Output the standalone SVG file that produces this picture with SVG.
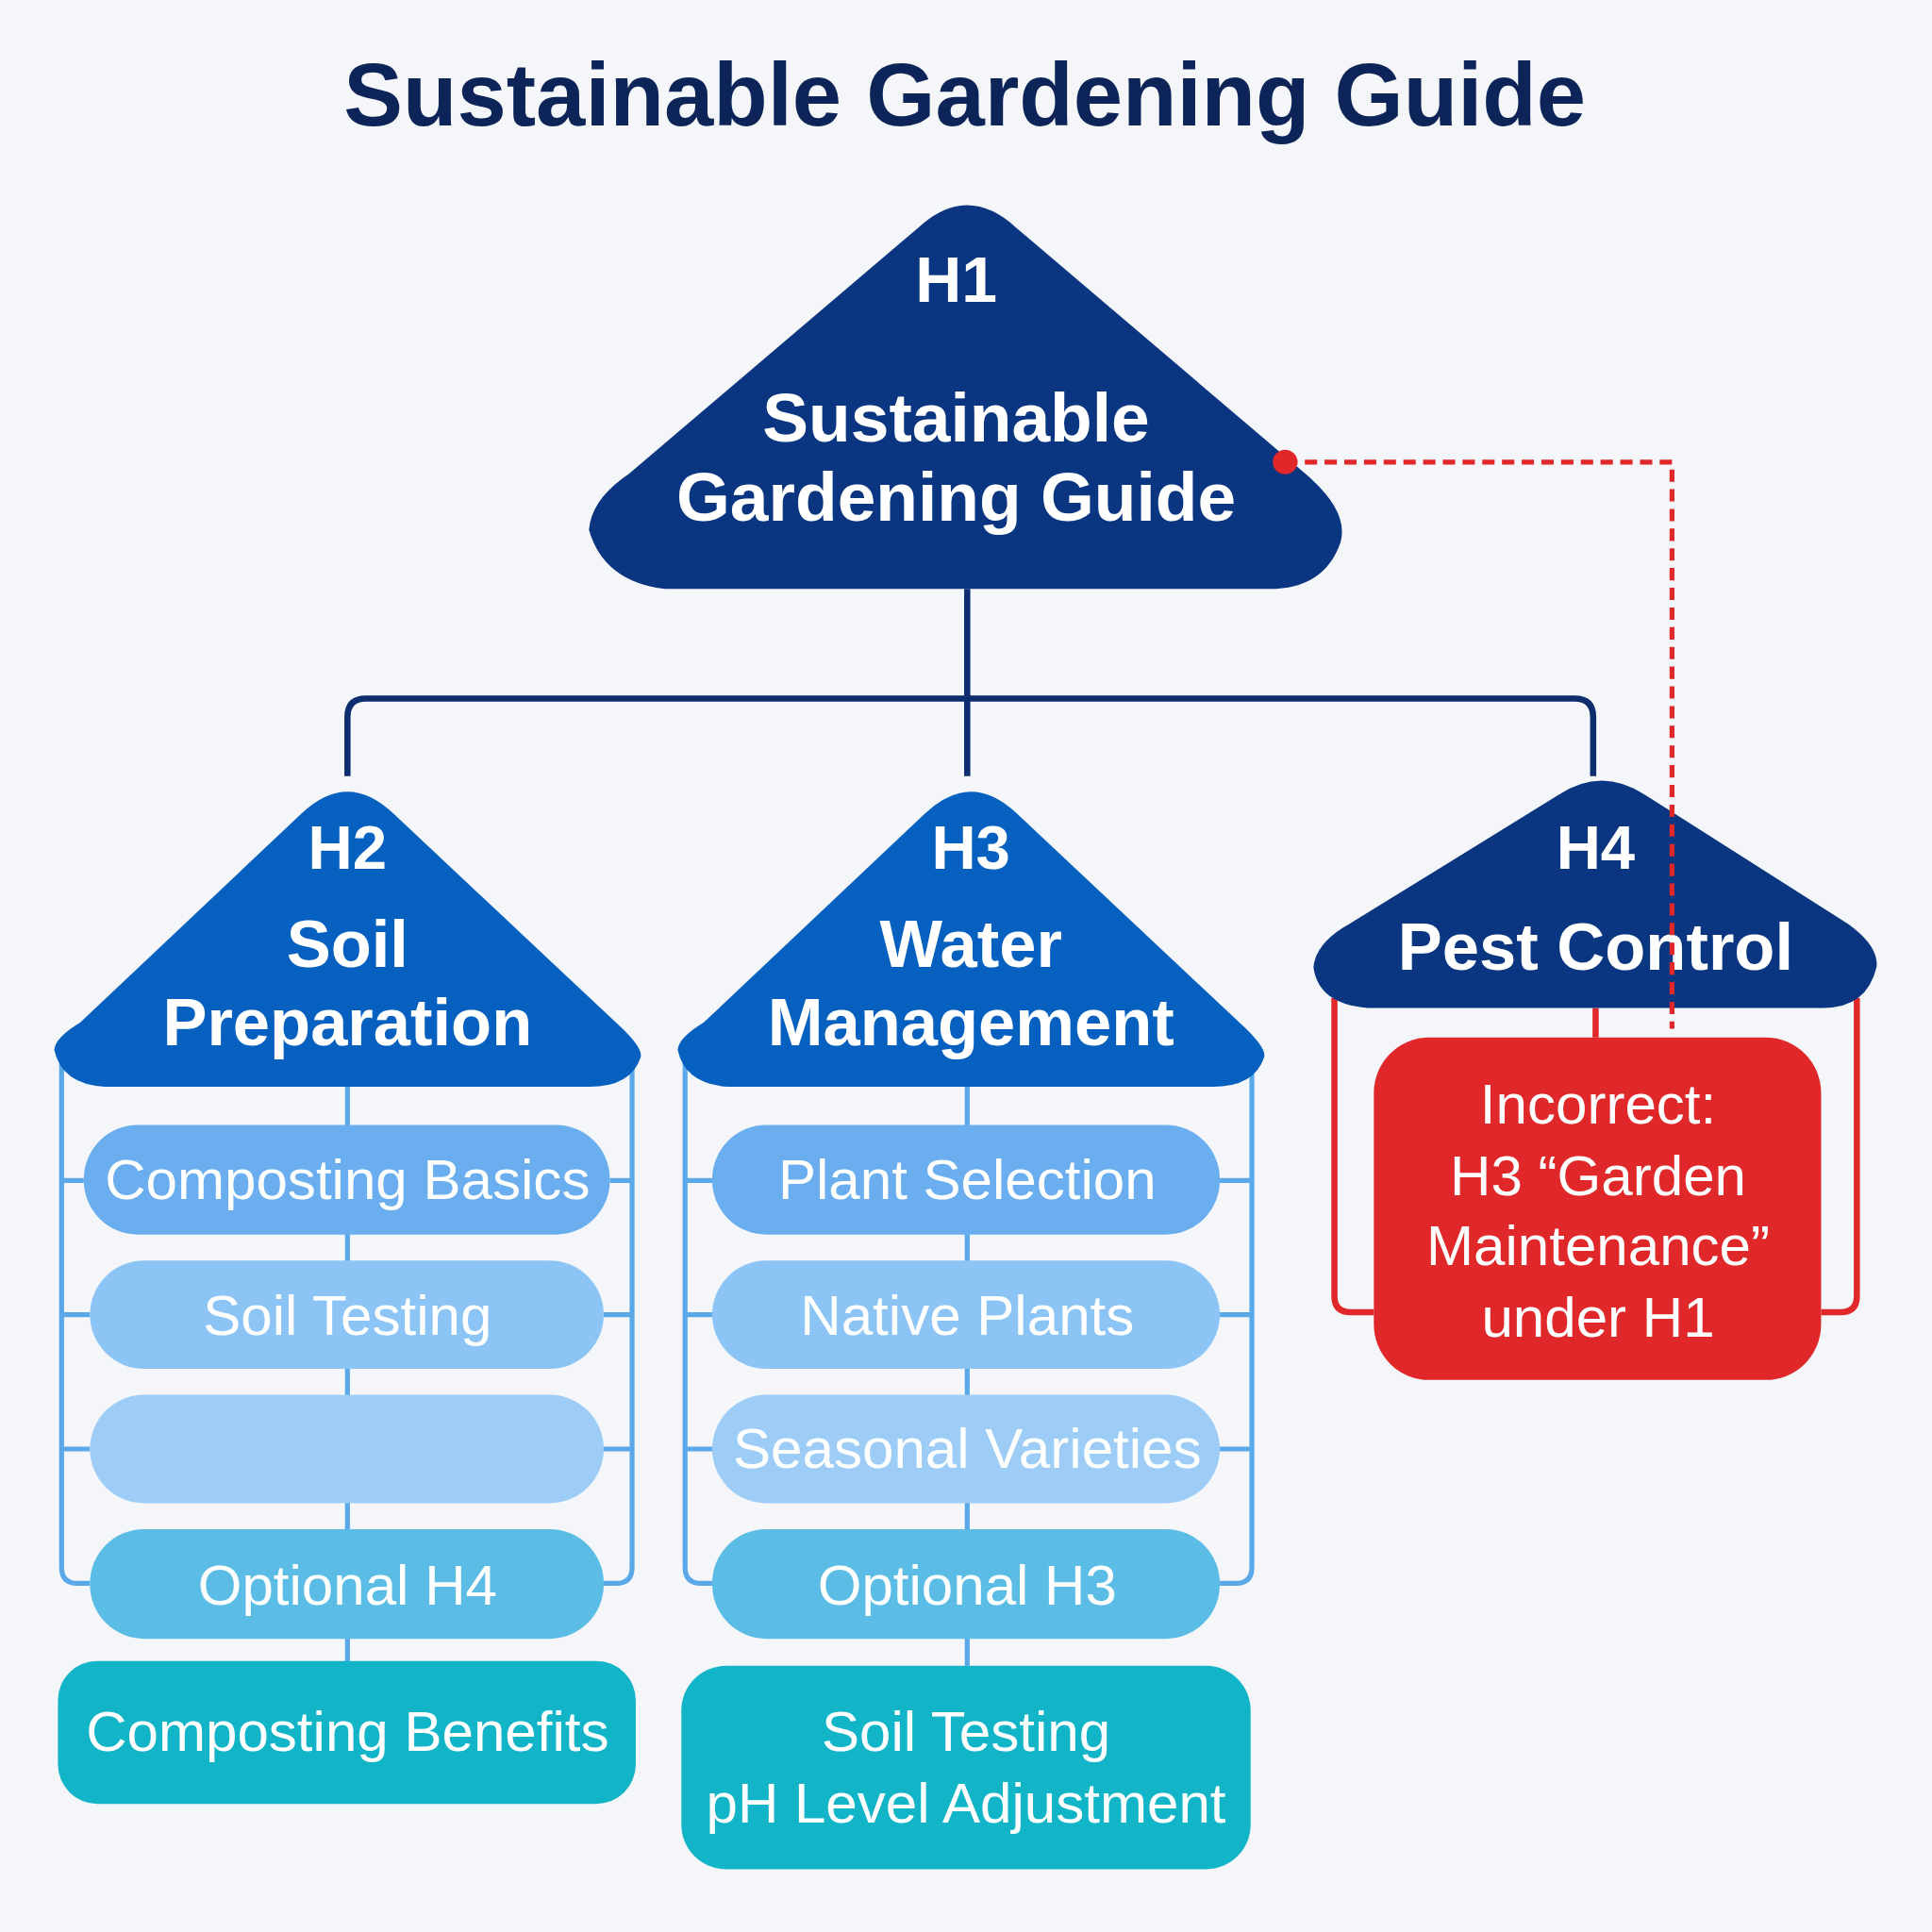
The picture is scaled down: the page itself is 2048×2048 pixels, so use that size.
<svg xmlns="http://www.w3.org/2000/svg" width="2048" height="2048" viewBox="0 0 2048 2048">
<style>
text{font-family:"Liberation Sans",Arial,sans-serif;fill:#fff;text-anchor:middle}
.b{font-weight:bold}
.p{font-size:46px}
.lb{fill:none;stroke:#5aa8e8;stroke-width:4}
.nv{fill:none;stroke:#0d2d6e;stroke-width:5}
.rd{fill:none;stroke:#e0282a;stroke-width:5}
</style>
<rect width="2048" height="2048" fill="#f4f6fa"/>
<g transform="scale(1.30612)">
<text x="783" y="102" class="b" font-size="72" style="fill:#0d2458">Sustainable Gardening Guide</text>
<g id="connectors">
<path class="nv" d="M785,478V630M282,630V582Q282,567 297,567H1278Q1293,567 1293,582V630"/>
<path class="lb" d="M50,860V1272Q50,1285 63,1285H73M513,860V1272Q513,1285 500,1285H490M282,880V1350M50,958H68M495,958H513M50,1067H73M490,1067H513M50,1176H73M490,1176H513"/>
<path class="lb" d="M556,860V1272Q556,1285 569,1285H578M1016,860V1272Q1016,1285 1003,1285H990M785,880V1352M556,958H578M990,958H1016M556,1067H578M990,1067H1016M556,1176H578M990,1176H1016"/>
<path class="rd" d="M1083,810V1052Q1083,1065 1096,1065H1115M1507,810V1052Q1507,1065 1494,1065H1478M1295,818V842"/>
</g>
<g id="h1">
<path d="M745,185Q785,148 825,185L1060,385Q1095,415 1088,440Q1075,478 1030,478L540,478Q490,472 478,430Q480,405 510,385Z" fill="#0a3580"/>
<text x="776" y="245" class="b" font-size="52">H1</text>
<text x="776" y="358" class="b" font-size="56">Sustainable</text>
<text x="776" y="423" class="b" font-size="56">Gardening Guide</text>
</g>
<g id="h2">
<path d="M245,660Q282,625 319,660L500,830Q522,850 520,858Q512,882 478,882L85,882Q50,880 44,852Q45,842 65,830Z" fill="#0560c0"/>
<text x="282" y="705" class="b" font-size="50">H2</text>
<text x="282" y="785" class="b" font-size="54">Soil</text>
<text x="282" y="848" class="b" font-size="54">Preparation</text>
</g>
<g id="h3">
<path d="M751,660Q788,625 825,660L1006,830Q1028,850 1026,858Q1018,882 984,882L591,882Q556,880 550,852Q551,842 571,830Z" fill="#0560c0"/>
<text x="788" y="705" class="b" font-size="50">H3</text>
<text x="788" y="785" class="b" font-size="54">Water</text>
<text x="788" y="848" class="b" font-size="54">Management</text>
</g>
<g id="h4">
<path d="M1265,645Q1300,622 1335,645L1500,750Q1525,768 1523,785Q1515,818 1480,818L1110,818Q1070,815 1066,785Q1068,765 1095,750Z" fill="#0a3580"/>
<text x="1295" y="705" class="b" font-size="50">H4</text>
<text x="1295" y="787" class="b" font-size="54">Pest Control</text>
</g>
<g id="h2kids">
<rect x="68" y="913" width="427" height="89" rx="44" fill="#6aaef0"/><text x="282" y="973" class="p">Composting Basics</text>
<rect x="73" y="1023" width="417" height="88" rx="44" fill="#8cc4f5"/><text x="282" y="1083" class="p">Soil Testing</text>
<rect x="73" y="1132" width="417" height="88" rx="44" fill="#9dcdf7"/>
<rect x="73" y="1241" width="417" height="89" rx="44" fill="#5bbde6"/><text x="282" y="1302" class="p">Optional H4</text>
<rect x="47" y="1348" width="469" height="116" rx="32" fill="#12b5c8"/><text x="282" y="1421" class="p">Composting Benefits</text>
</g>
<g id="h3kids">
<rect x="578" y="913" width="412" height="89" rx="44" fill="#6aaef0"/><text x="785" y="973" class="p">Plant Selection</text>
<rect x="578" y="1023" width="412" height="88" rx="44" fill="#8cc4f5"/><text x="785" y="1083" class="p">Native Plants</text>
<rect x="578" y="1132" width="412" height="88" rx="44" fill="#9dcdf7"/><text x="785" y="1191" class="p">Seasonal Varieties</text>
<rect x="578" y="1241" width="412" height="89" rx="44" fill="#5bbde6"/><text x="785" y="1302" class="p">Optional H3</text>
<rect x="553" y="1352" width="462" height="165" rx="36" fill="#12b5c8"/>
<text x="784" y="1421" class="p">Soil Testing</text><text x="784" y="1479" class="p">pH Level Adjustment</text>
</g>
<g id="h4kid">
<rect x="1115" y="842" width="363" height="278" rx="45" fill="#e0282a"/>
<text x="1297" y="912" class="p">Incorrect:</text>
<text x="1297" y="970" class="p">H3 “Garden</text>
<text x="1297" y="1027" class="p">Maintenance”</text>
<text x="1297" y="1085" class="p">under H1</text>
</g>
<g id="dashed">
<path d="M1043,375H1357V835" fill="none" stroke="#e0282a" stroke-width="4" stroke-dasharray="10,6"/>
<circle cx="1043" cy="375" r="10" fill="#e0282a"/>
</g>
</g>
</svg>
